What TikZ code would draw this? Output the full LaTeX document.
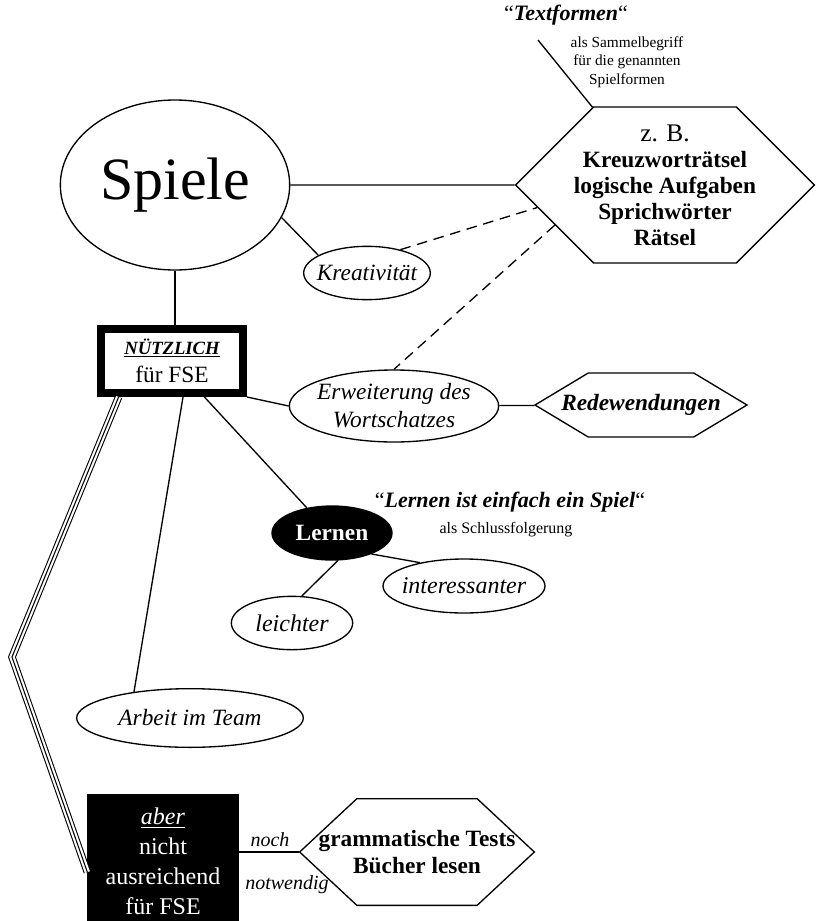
\documentclass[tikz,border=0pt]{standalone}
\usepackage{fontspec}
\setmainfont{Liberation Serif}
\usetikzlibrary{shapes.geometric, shapes.symbols}

\begin{document}
\begin{tikzpicture}[x=0.75pt, y=-0.75pt, line width=1pt,
    oval/.style={ellipse, draw, inner xsep=-6pt, inner ysep=0pt, font=\itshape\fontsize{17.5}{21}\selectfont},
    hexa/.style={signal, signal to=east and west, draw, inner xsep=-60pt, inner ysep=0pt, align=center},
    dashline/.style={dash pattern=on 8pt off 5pt},
    triple/.style={double distance=4pt, line width=0.8pt}
  ]
  \useasboundingbox (0,0) rectangle (815,921);

  \node[ellipse, draw, inner sep=0pt, minimum width=172pt, minimum height=127.5pt, font=\fontsize{45}{50}\selectfont] (spiele) at (175,185) {Spiele};
  \node[hexa, minimum width=224pt, minimum height=117pt, signal pointer angle=90, font=\bfseries\fontsize{17.5}{19.5}\selectfont] (beispiele) at (665,185) {{\mdseries\fontsize{19}{19.5}\selectfont z. B.}\\Kreuzworträtsel\\logische Aufgaben\\Sprichwörter\\Rätsel};
  \node[font=\fontsize{16.5}{20}\selectfont] (textformen) at (566,15) {“\textbf{\textit{Textformen}}“};
  \node[align=center, font=\fontsize{11.5}{13.9}\selectfont] (sammel) at (627,62) {als Sammelbegriff\\für die genannten\\Spielformen};
  \coordinate (tf) at (538,40);

  \node[oval, minimum width=95pt, minimum height=40pt] (kreativ) at (367,273) {Kreativität};
  \node[draw, line width=6pt, inner sep=0pt, minimum width=106.5pt, minimum height=48pt, align=center] (nuetzlich) at (172,361)
    {{\bfseries\itshape\fontsize{14}{20}\selectfont\underline{NÜTZLICH}}\\[6pt]{\fontsize{17.5}{20}\selectfont für FSE}};
  \node[oval, minimum width=157pt, minimum height=54pt, align=center] (erweiterung) at (394,406) {Erweiterung des\\Wortschatzes};
  \node[hexa, minimum width=159pt, minimum height=48pt, signal pointer angle=62, font=\bfseries\itshape\fontsize{17.5}{21}\selectfont] (redewendungen) at (641,405) {Redewendungen};

  \node[ellipse, draw, fill=black, text=white, inner sep=0pt, minimum width=90pt, minimum height=40.5pt, font=\bfseries\fontsize{17.5}{21}\selectfont] (lernen) at (332,533) {Lernen};
  \node[font=\fontsize{16.5}{20}\selectfont] (spielquote) at (510,502) {“\textbf{\textit{Lernen ist einfach ein Spiel}}“};
  \node[font=\fontsize{12}{14}\selectfont] (folgerung) at (506,530) {als Schlussfolgerung};
  \node[oval, minimum width=121.5pt, minimum height=40.5pt, font=\itshape\fontsize{18}{21}\selectfont] (interessanter) at (464,586) {interessanter};
  \node[oval, minimum width=91pt, minimum height=40pt, font=\itshape\fontsize{18}{21}\selectfont] (leichter) at (292,623) {leichter};
  \node[oval, minimum width=170pt, minimum height=44pt] (arbeit) at (190,718) {Arbeit im Team};

  \node[draw, fill=black, text=white, inner sep=0pt, minimum width=112.5pt, minimum height=101pt, align=center, font=\fontsize{18}{22.5}\selectfont] (aber) at (163,861.5)
    {\underline{\textit{aber}}\\nicht\\ausreichend\\für FSE};
  \node[hexa, minimum width=176pt, minimum height=80pt, signal pointer angle=86, font=\bfseries\fontsize{17.5}{20}\selectfont] (grammatik) at (417,852) {grammatische Tests\\Bücher lesen};
  \node[font=\itshape\fontsize{15}{18}\selectfont] (noch) at (270,840) {noch};
  \node[font=\itshape\fontsize{15}{18}\selectfont] (notwendig) at (287,885) {notwendig};

  \draw (spiele.south) -- (spiele.south |- nuetzlich.north);
  \draw (spiele) -- (beispiele);
  \draw (spiele.-17) -- (kreativ.160);
  \draw[dashline] (kreativ.35) -- (beispiele.190);
  \draw[dashline] (beispiele.200) -- (erweiterung.north);
  \draw (tf) -- (beispiele.133);
  \draw (nuetzlich.south east) -- (erweiterung.west);
  \draw (erweiterung) -- (redewendungen);
  \draw (nuetzlich.-48) -- (lernen.135);
  \draw (nuetzlich.-73) -- (arbeit.155);
  \draw (lernen.-28) -- (interessanter.152);
  \draw (lernen.-78) -- (leichter.70);
  \coordinate (knick) at (12,657);
  \draw[triple] (nuetzlich.214) -- (knick) -- (aber.188);
  \draw[line width=0.8pt] (nuetzlich.214) -- (knick) -- (aber.188);
  \draw (aber.east |- grammatik) -- (grammatik.west);
\end{tikzpicture}
\end{document}
